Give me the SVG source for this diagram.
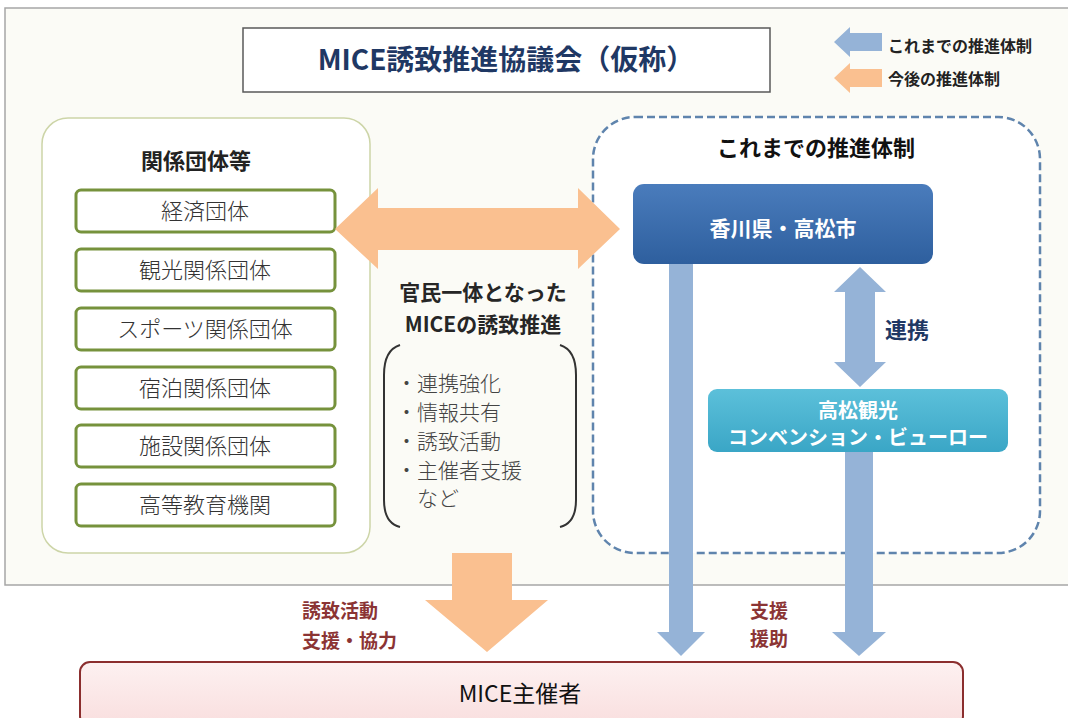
<svg xmlns="http://www.w3.org/2000/svg" width="1068" height="718" viewBox="0 0 1068 718">
<defs>
<style>
.jp{font-family:"Noto Sans CJK JP","Noto Sans",sans-serif}
.org{fill:#fff;stroke:#76923c;stroke-width:3}
.orgt{font-size:22px;fill:#333;text-anchor:middle;font-weight:300}
.lst{font-size:21px;fill:#444;font-weight:300}
.blu{fill:#95b3d7}
.ora{fill:#fac090}
.red{font-size:19px;fill:#8b3434;font-weight:bold}
</style>
<linearGradient id="gb" x1="0" y1="0" x2="0" y2="1"><stop offset="0" stop-color="#4a7cbc"/><stop offset="1" stop-color="#2e5f9e"/></linearGradient>
<linearGradient id="gc" x1="0" y1="0" x2="0" y2="1"><stop offset="0" stop-color="#5cc0da"/><stop offset="1" stop-color="#3aa6c6"/></linearGradient>
<linearGradient id="gp" x1="0" y1="0" x2="0" y2="1"><stop offset="0" stop-color="#fdf1f1"/><stop offset="1" stop-color="#f9dede"/></linearGradient>
</defs>
<rect width="1068" height="718" fill="#fff"/>
<rect x="5" y="8" width="1070" height="577" fill="#fbfbf6" stroke="#a6a6a6" stroke-width="1.5"/>

<g id="title">
<rect x="243" y="28" width="527" height="64" fill="#fff" stroke="#595959" stroke-width="1.5"/>
<text class="jp" x="506" y="70" font-size="28" font-weight="bold" fill="#1f3864" text-anchor="middle">MICE誘致推進協議会（仮称）</text>
</g>

<g id="legend">
<polygon class="blu" points="834,42 850,27 850,33 882,33 882,51 850,51 850,57"/>
<polygon class="ora" points="834,78 850,63 850,69 882,69 882,87 850,87 850,93"/>
<text class="jp" x="888" y="52" font-size="16" font-weight="bold" fill="#222">これまでの推進体制</text>
<text class="jp" x="888" y="85" font-size="16" font-weight="bold" fill="#222">今後の推進体制</text>
</g>

<g id="groups">
<rect x="42" y="118" width="328" height="435" rx="26" fill="#fff" stroke="#cdd5a8" stroke-width="1.5"/>
<text class="jp" x="196" y="169" font-size="22" font-weight="bold" fill="#222" text-anchor="middle">関係団体等</text>
</g>
<g id="n1"><rect class="org" x="76" y="190" width="259" height="42" rx="5"/><text class="jp orgt" x="205" y="219">経済団体</text></g>
<g id="n2"><rect class="org" x="76" y="249" width="259" height="42" rx="5"/><text class="jp orgt" x="205" y="278">観光関係団体</text></g>
<g id="n3"><rect class="org" x="76" y="308" width="259" height="42" rx="5"/><text class="jp orgt" x="205" y="337">スポーツ関係団体</text></g>
<g id="n4"><rect class="org" x="76" y="367" width="259" height="42" rx="5"/><text class="jp orgt" x="205" y="396">宿泊関係団体</text></g>
<g id="n5"><rect class="org" x="76" y="425" width="259" height="42" rx="5"/><text class="jp orgt" x="205" y="454">施設関係団体</text></g>
<g id="n6"><rect class="org" x="76" y="484" width="259" height="42" rx="5"/><text class="jp orgt" x="205" y="513">高等教育機関</text></g>

<g id="current">
<rect x="593" y="117" width="447" height="436" rx="42" fill="#fff" stroke="#5f84ad" stroke-width="2.5" stroke-dasharray="8,4"/>
<text class="jp" x="816" y="156" font-size="22" font-weight="bold" fill="#111" text-anchor="middle">これまでの推進体制</text>
</g>

<g id="connectors">
<polygon class="ora" points="335,229 378,188 378,208 578,208 578,188 620,229 578,269 578,250 378,250 378,269"/>
<polygon class="blu" points="669,264 693,264 693,632 705,632 681,656 657,632 669,632"/>
<polygon class="blu" points="845,452 873,452 873,632 886,632 859,656 832,632 845,632"/>
<polygon class="blu" points="860,267 886,292 875,292 875,362 886,362 860,387 834,362 845,362 845,292 834,292"/>
<polygon class="ora" points="452,553 512,553 512,600 548,600 487,652 425,600 452,600"/>
</g>

<g id="kagawa">
<rect x="633" y="184" width="300" height="80" rx="11" fill="url(#gb)"/>
<text class="jp" x="783" y="236" font-size="21" font-weight="bold" fill="#fff" text-anchor="middle">香川県・高松市</text>
</g>
<g id="bureau">
<rect x="708" y="389" width="300" height="63" rx="9" fill="url(#gc)"/>
<text class="jp" x="858" y="418" font-size="20" font-weight="bold" fill="#fff" text-anchor="middle">高松観光</text>
<text class="jp" x="858" y="445" font-size="20" font-weight="bold" fill="#fff" text-anchor="middle">コンベンション・ビューロー</text>
</g>
<text class="jp" x="885" y="338" font-size="22" font-weight="bold" fill="#1f3864">連携</text>

<g id="middle">
<text class="jp" x="483" y="300" font-size="21" font-weight="bold" fill="#262626" text-anchor="middle">官民一体となった</text>
<text class="jp" x="483" y="332" font-size="21" font-weight="bold" fill="#262626" text-anchor="middle">MICEの誘致推進</text>
<path d="M400,345 Q384,350 384,375 L384,500 Q384,523 400,527" fill="none" stroke="#333" stroke-width="2"/>
<path d="M560,345 Q576,350 576,375 L576,500 Q576,523 560,527" fill="none" stroke="#333" stroke-width="2"/>
<text class="jp lst" x="396" y="391">・連携強化</text>
<text class="jp lst" x="396" y="420">・情報共有</text>
<text class="jp lst" x="396" y="449">・誘致活動</text>
<text class="jp lst" x="396" y="478">・主催者支援</text>
<text class="jp lst" x="417" y="506">など</text>
</g>

<text class="jp red" x="302" y="618">誘致活動</text>
<text class="jp red" x="302" y="648">支援・協力</text>
<text class="jp red" x="750" y="618">支援</text>
<text class="jp red" x="750" y="646">援助</text>

<g id="organizer">
<rect x="80" y="662" width="883" height="64" rx="10" fill="url(#gp)" stroke="#8b2e2e" stroke-width="2"/>
<text class="jp" x="520" y="702" font-size="23" fill="#111" text-anchor="middle">MICE主催者</text>
</g>
</svg>
